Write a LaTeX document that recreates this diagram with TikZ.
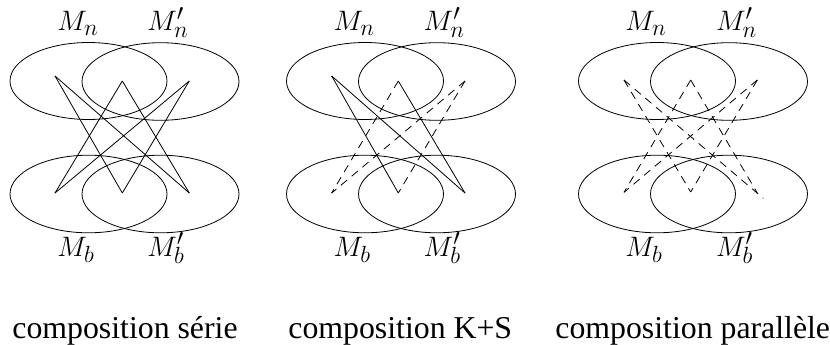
\documentclass[tikz,border=0pt]{standalone}
\usepackage{fontspec}
\setmainfont{Liberation Serif}
\newcommand{\mlab}[1]{\scalebox{1.13}{$#1$}}
\begin{document}
\begin{tikzpicture}[x=1pt,y=-1pt,line width=0.8pt,
  solidedge/.style={draw=black},
  dashededge/.style={draw=black,dash pattern=on 8pt off 6pt},
  setell/.style={draw=black},
  mlabel/.style={inner sep=0pt,anchor=base west,font=\fontsize{24.88}{30}\selectfont},
  caption/.style={inner sep=0pt,anchor=base west,font=\fontsize{31.8}{38}\selectfont}]
\useasboundingbox (0,0) rectangle (830,345);

% ---------- panel 1 : composition serie
\draw[setell] (88.5,81) ellipse [x radius=78.5pt, y radius=38.5pt];
\draw[setell] (160.5,81.5) ellipse [x radius=78.5pt, y radius=38.8pt];
\draw[setell] (88.5,194) ellipse [x radius=78.5pt, y radius=38.8pt];
\draw[setell] (160.5,194) ellipse [x radius=78.5pt, y radius=38.8pt];
\coordinate (a1) at (55,76);
\coordinate (a2) at (122.3,81);
\coordinate (a3) at (189.3,81);
\coordinate (b1) at (55,193);
\coordinate (b2) at (122.3,193);
\coordinate (b3) at (189.3,193);
\draw[solidedge] (a1) -- (b2);
\draw[solidedge] (a1) -- (b3);
\draw[solidedge] (a2) -- (b1);
\draw[solidedge] (a2) -- (b3);
\draw[solidedge] (a3) -- (b1);
\draw[solidedge] (a3) -- (b2);
\node[mlabel] (mn1) at (57,31) {\mlab{M_n}};
\node[mlabel] (mpn1) at (147,31) {\mlab{M'_n}};
\node[mlabel] (mb1) at (57,256) {\mlab{M_b}};
\node[mlabel] (mpb1) at (147,256) {\mlab{M'_b}};
\node[caption] (c1) at (12,338) {composition série};

% ---------- panel 2 : composition K+S
\draw[setell] (365,81) ellipse [x radius=78.5pt, y radius=38.5pt];
\draw[setell] (437,81.5) ellipse [x radius=78.5pt, y radius=38.8pt];
\draw[setell] (365,194) ellipse [x radius=78.5pt, y radius=38.8pt];
\draw[setell] (437,194) ellipse [x radius=78.5pt, y radius=38.8pt];
\coordinate (d1) at (331.7,76);
\coordinate (d2) at (398.3,81);
\coordinate (d3) at (465,81);
\coordinate (e1) at (331.7,193);
\coordinate (e2) at (398.3,193);
\coordinate (e3) at (465,193);
\draw[solidedge] (d1) -- (e2);
\draw[solidedge] (d1) -- (e3);
\draw[solidedge] (d2) -- (e3);
\draw[dashededge] (d2) -- (e1);
\draw[dashededge] (d3) -- (e1);
\draw[dashededge] (d3) -- (e2);
\node[mlabel] (mn2) at (333.3,31) {\mlab{M_n}};
\node[mlabel] (mpn2) at (423.3,31) {\mlab{M'_n}};
\node[mlabel] (mb2) at (333.3,256) {\mlab{M_b}};
\node[mlabel] (mpb2) at (423.3,256) {\mlab{M'_b}};
\node[caption] (c2) at (288,338) {composition K+S};

% ---------- panel 3 : composition parallele
\draw[setell] (657,81) ellipse [x radius=78.5pt, y radius=38.5pt];
\draw[setell] (729,81.5) ellipse [x radius=78.5pt, y radius=38.8pt];
\draw[setell] (657,194) ellipse [x radius=78.5pt, y radius=38.8pt];
\draw[setell] (729,194) ellipse [x radius=78.5pt, y radius=38.8pt];
\coordinate (f1) at (624,80);
\coordinate (f2) at (690.7,80);
\coordinate (f3) at (757.3,80);
\coordinate (g1) at (624,192.3);
\coordinate (g2) at (690.7,192);
\coordinate (g3) at (757.3,193);
\coordinate (g3b) at (763.3,198.3);
\draw[dashededge] (f1) -- (g2);
\draw[dashededge] (f1) -- (g3b);
\draw[dashededge] (f2) -- (g1);
\draw[dashededge] (f2) -- (g3);
\draw[dashededge] (f3) -- (g1);
\draw[dashededge] (f3) -- (g2);
\node[mlabel] (mn3) at (625,31) {\mlab{M_n}};
\node[mlabel] (mpn3) at (715.7,31) {\mlab{M'_n}};
\node[mlabel] (mb3) at (625,256) {\mlab{M_b}};
\node[mlabel] (mpb3) at (715.7,256) {\mlab{M'_b}};
\node[caption] (c3) at (555,338) {composition parallèle};
\end{tikzpicture}
\end{document}
